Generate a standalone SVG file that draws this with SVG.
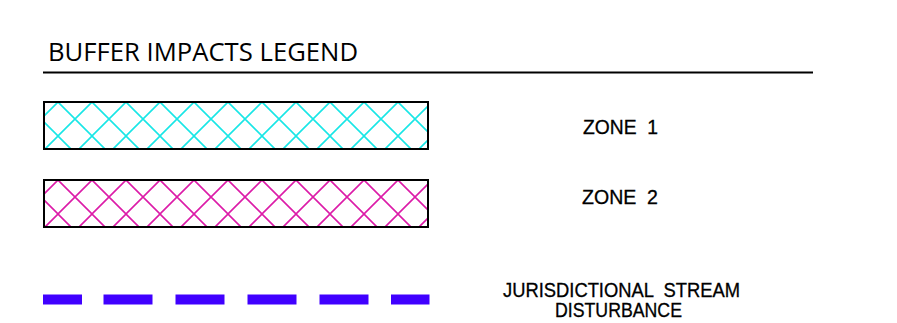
<svg xmlns="http://www.w3.org/2000/svg" width="897" height="323" viewBox="0 0 897 323">
  <style>
    .lbl { font-family: "Liberation Sans", Arial, sans-serif; font-size: 19.5px; fill: #000; stroke: #000; stroke-width: 0.3; white-space: pre; }
    .title { font-family: "Open Sans", "Liberation Sans", sans-serif; font-size: 25.5px; fill: #000; }
    .box { stroke: #000; stroke-width: 2; }
  </style>
  <defs>
    <pattern id="hatch1" patternUnits="userSpaceOnUse" x="24" y="0" width="34" height="34">
      <path d="M0 0L34 34M34 0L0 34" stroke="#19E6E6" stroke-width="1.6" fill="none"/>
    </pattern>
    <pattern id="hatch2" patternUnits="userSpaceOnUse" x="24" y="10" width="34" height="34">
      <path d="M0 0L34 34M34 0L0 34" stroke="#DC1CA8" stroke-width="1.6" fill="none"/>
    </pattern>
  </defs>
  <rect width="897" height="323" fill="#fff"/>

  <g id="title">
    <text class="title" x="48" y="61" textLength="310" lengthAdjust="spacingAndGlyphs">BUFFER IMPACTS LEGEND</text>
    <line x1="43" y1="72.5" x2="813" y2="72.5" stroke="#000" stroke-width="2"/>
  </g>

  <g id="zone1">
    <rect x="44" y="102" width="384" height="47" fill="url(#hatch1)" class="box"/>
    <text class="lbl" x="583" y="133.5" textLength="75" lengthAdjust="spacingAndGlyphs" xml:space="preserve">ZONE  1</text>
  </g>

  <g id="zone2">
    <rect x="44" y="180" width="384" height="47" fill="url(#hatch2)" class="box"/>
    <text class="lbl" x="582" y="203.5" textLength="76" lengthAdjust="spacingAndGlyphs" xml:space="preserve">ZONE  2</text>
  </g>

  <g id="stream">
    <path d="M43 299.5H82M103.5 299.5H152.5M175.5 299.5H224.5M247.5 299.5H296.5M319.5 299.5H368.5M391 299.5H429.5" stroke="#4000FF" stroke-width="10" fill="none"/>
    <text class="lbl" x="503" y="296.5" textLength="237" lengthAdjust="spacingAndGlyphs" xml:space="preserve">JURISDICTIONAL  STREAM</text>
    <text class="lbl" x="555" y="316.5" textLength="127" lengthAdjust="spacingAndGlyphs">DISTURBANCE</text>
  </g>
</svg>
